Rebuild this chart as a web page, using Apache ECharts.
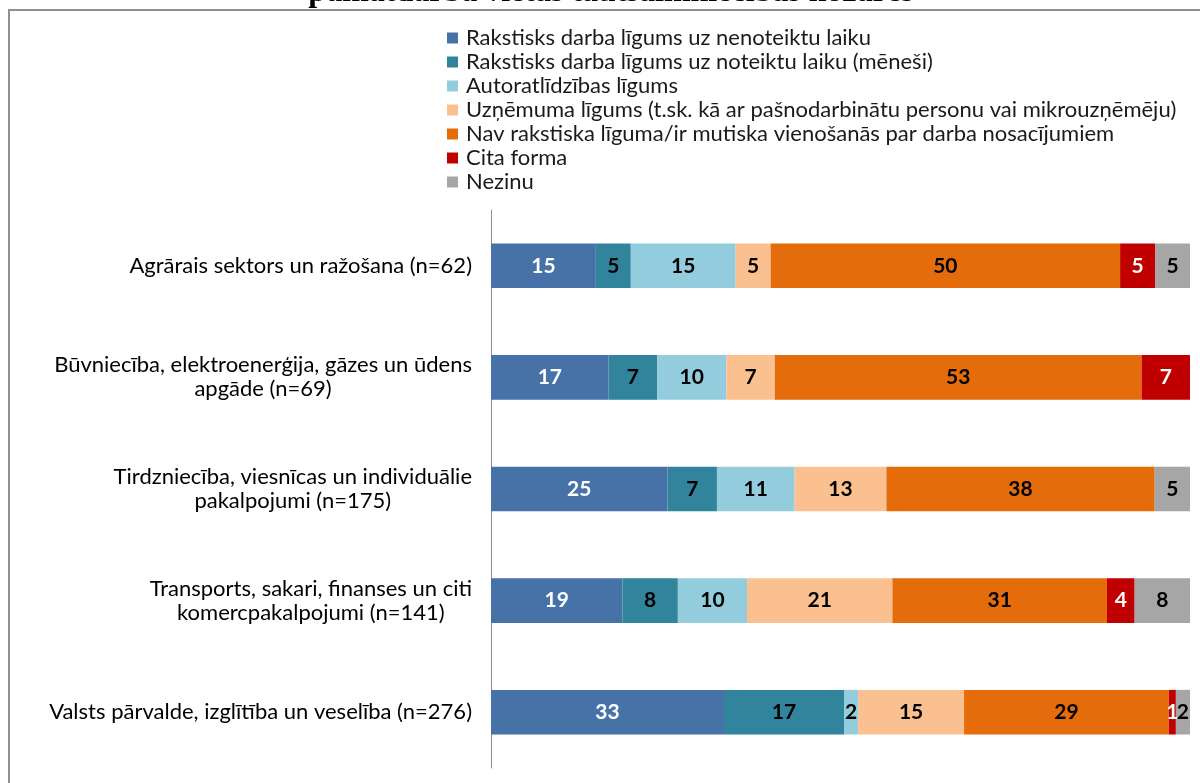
<!DOCTYPE html>
<html>
<head>
<meta charset="utf-8">
<script src="https://cdn.jsdelivr.net/npm/echarts@6/dist/echarts.min.js"></script>
<style>
  html, body { margin: 0; padding: 0; background: #fff; }
  #chart { width: 1200px; height: 783px; }
</style>
</head>
<body>
<div id="chart"></div>
<script>
// nozares (kategorijas)
var categories = [
  'Agrārais sektors un ražošana (n=62)',
  'Būvniecība, elektroenerģija, gāzes un ūdens\napgāde (n=69)',
  'Tirdzniecība, viesnīcas un individuālie\npakalpojumi (n=175)',
  'Transports, sakari, finanses un citi\nkomercpakalpojumi (n=141)',
  'Valsts pārvalde, izglītība un veselība (n=276)'
]

var seriesNames = [
  'Rakstisks darba līgums uz nenoteiktu laiku',
  'Rakstisks darba līgums uz noteiktu laiku (mēneši)',
  'Autoratlīdzības līgums',
  'Uzņēmuma līgums (t.sk. kā ar pašnodarbinātu personu vai mikrouzņēmēju)',
  'Nav rakstiska līguma/ir mutiska vienošanās par darba nosacījumiem',
  'Cita forma',
  'Nezinu'
]

// vērtības, %
var nenoteiktu = [15, 17, 25, 19, 33]
var noteiktu = [5, 7, 7, 8, 17]
var autoratlidzibas = [15, 10, 11, 10, 2]
var uznemuma = [5, 7, 13, 21, 15]
var navRakstiska = [50, 53, 38, 31, 29]
var citaForma = [5, 7, 0, 4, 1]
var nezinu = [5, 0, 5, 8, 2]

var colors = ['#4672a8', '#31849b', '#93cddd', '#fac08f', '#e46c0a', '#c00000', '#a6a6a6']
var labelColors = ['#fff', '#000', '#000', '#000', '#000', '#fff', '#000']

var allValues = [nenoteiktu, noteiktu, autoratlidzibas, uznemuma, navRakstiska, citaForma, nezinu]

// 100% stacked: katra rinda tiek normalizēta uz savu kopsummu
var rowTotals = categories.map(function(c, i) {
  return allValues.reduce(function(s, arr) { return s + arr[i] }, 0)
})

var chart = echarts.init(document.getElementById('chart'))

chart.setOption({
  animation: false,
  textStyle: { fontFamily: 'Lato' },
  graphic: [
    {
      type: 'rect',
      shape: { x: 9, y: 10, width: 1250, height: 850 },
      style: { fill: null, stroke: '#8f8f8f', lineWidth: 2 },
      silent: true
    },
    {
      type: 'text',
      x: 611,
      y: 8.5,
      style: {
        text: 'pamatdarba vietas tautsaimniecības nozarēs',
        font: 'bold 32px "Liberation Serif"',
        fill: '#000',
        align: 'center',
        verticalAlign: 'bottom'
      },
      silent: true
    }
  ],
  legend: {
    orient: 'vertical',
    left: 447,
    top: 27,
    padding: 0,
    itemGap: 2,
    itemWidth: 11,
    itemHeight: 11,
    icon: 'rect',
    textStyle: { fontSize: 22, color: '#1a1a1a', lineHeight: 20, padding: [0, 0, 0, 3] },
    data: seriesNames
  },
  grid: { left: 491, right: 10, top: 210, bottom: 15, containLabel: false },
  xAxis: {
    type: 'value',
    min: 0,
    max: 100,
    show: false
  },
  yAxis: {
    type: 'category',
    inverse: true,
    data: categories,
    axisLine: { lineStyle: { color: '#8c8c8c', width: 1 } },
    axisTick: { length: 5, lineStyle: { color: '#8c8c8c' } },
    axisLabel: {
      margin: 19,
      align: 'right',
      fontSize: 22,
      color: '#000',
      lineHeight: 24,
      formatter: function(v) {
        return v.split('\n').map(function(l) { return '{c|' + l + '}' }).join('\n')
      },
      rich: { c: { align: 'center', fontSize: 22, lineHeight: 24, color: '#000' } }
    }
  },
  series: allValues.map(function(arr, k) {
    return {
      name: seriesNames[k],
      type: 'bar',
      stack: 'total',
      barWidth: '40%',
      itemStyle: { color: colors[k] },
      label: {
        show: true,
        position: 'inside',
        fontSize: 21,
        fontWeight: 'bold',
        color: labelColors[k],
        formatter: function(p) { return p.data.raw > 0 ? String(p.data.raw) : '' }
      },
      data: arr.map(function(v, i) {
        return { value: v / rowTotals[i] * 100, raw: v }
      })
    }
  })
})
</script>
</body>
</html>
